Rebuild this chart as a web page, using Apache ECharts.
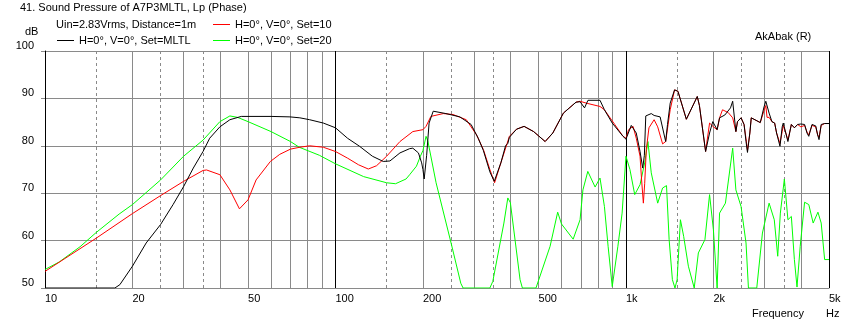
<!DOCTYPE html>
<html><head><meta charset="utf-8">
<script src="https://cdn.jsdelivr.net/npm/echarts@6/dist/echarts.min.js"></script>
<style>html,body{margin:0;padding:0;background:#fff}#c{width:854px;height:325px}</style>
</head><body><div id="c"></div>
<script>
const FONT = '"Liberation Sans", Arial, sans-serif';

const titleText = '41. Sound Pressure of A7P3MLTL, Lp (Phase)';
const infoText = 'Uin=2.83Vrms, Distance=1m';
const nameMLTL = 'H=0°, V=0°, Set=MLTL';
const nameSet10 = 'H=0°, V=0°, Set=10';
const nameSet20 = 'H=0°, V=0°, Set=20';

// [frequency Hz, SPL dB]
const setMLTL = [[10,50],[17.4,50],[18.1,50.7],[20,54.6],[22.3,59.5],[25,63.4],[27.6,67.6],[30,71.4],[32.4,75.3],[35,78.8],[36.9,81.6],[40,84.0],[43.3,85.5],[47.4,86.2],[60,86.2],[69.7,86.1],[75.4,85.9],[81.5,85.5],[90.8,84.8],[100,83.8],[110,81.6],[121,79.9],[134,77.8],[146,76.7],[154,76.8],[166.7,78.5],[180,79.4],[184.6,79.5],[193,78.5],[198,76.4],[200,75.0],[202,73.0],[206,78.0],[210,84.8],[217,87.3],[240,86.8],[268,86.1],[293,84.5],[310,81.6],[323,79.0],[340,74.5],[352,72.5],[371,76.4],[385,80.0],[392,80.5],[397,81.8],[420,83.5],[446,84.1],[481,83.0],[527,80.9],[560,82.7],[609,86.9],[673,89.2],[695,89.3],[720,88.0],[740,89.6],[814,89.6],[843,87.6],[897,84.8],[977,82.0],[1000,81.4],[1043,84.3],[1085,82.7],[1118,78.8],[1142,75.3],[1157,78.0],[1170,86.3],[1222,86.8],[1250,86.4],[1311,86.1],[1370,80.9],[1390,84.5],[1420,89.0],[1470,91.8],[1510,91.5],[1614,85.6],[1760,90.4],[1790,88.5],[1880,78.8],[1940,82.7],[1990,85.1],[2060,83.4],[2100,85.9],[2190,86.5],[2290,88.0],[2330,89.4],[2390,83.0],[2420,85.1],[2490,85.9],[2550,84.5],[2590,80.9],[2620,78.6],[2670,82.7],[2700,85.9],[2900,84.9],[2990,88.3],[3030,89.4],[3110,86.9],[3180,85.1],[3250,84.8],[3300,82.7],[3390,79.9],[3450,84],[3480,84.8],[3550,82.7],[3610,80.9],[3710,84.5],[3800,83.8],[3900,84.5],[4000,84.6],[4120,84.5],[4200,82.7],[4260,82.0],[4370,84.5],[4500,84.2],[4570,82.3],[4620,81.3],[4700,84.5],[4830,84.7],[5000,84.7]];

const set10 = [[10,53.5],[15,60.5],[20,65.7],[25,69.5],[30,72.5],[35,74.8],[36,74.9],[40,73.9],[43.3,70.7],[46.7,66.7],[50,68.6],[53.3,72.8],[59.7,76.7],[64.3,78.2],[70,79.3],[75.4,79.7],[81.5,80.0],[90.8,79.7],[100,78.8],[110,77.4],[120,76.0],[129.7,75.1],[138.5,75.8],[150,77.8],[166.7,80.9],[184.6,83.0],[200,83.4],[205,84.1],[213,86.2],[235,86.8],[254,86.6],[282,85.5],[306,82.3],[323,79.2],[340,75.0],[353,72.2],[371,76.4],[397,82.0],[420,83.5],[446,84.1],[481,83.0],[527,80.9],[560,82.7],[609,86.9],[673,89.2],[695,89.4],[730,89.0],[814,88.3],[843,87.6],[915,84.5],[977,82.0],[1000,81.6],[1021,83.4],[1058,84.1],[1085,81.6],[1118,77.8],[1132,72.8],[1148,67.9],[1160,72.0],[1175,79.2],[1200,83.8],[1250,85.5],[1286,84.0],[1337,80.4],[1370,80.9],[1420,87.6],[1470,91.8],[1510,91.5],[1614,85.6],[1760,90.4],[1790,88.5],[1880,78.8],[1940,84.8],[2000,84.0],[2060,83.4],[2100,85.9],[2150,87.6],[2250,87.0],[2330,85.9],[2390,83.0],[2420,85.1],[2490,85.9],[2550,84.5],[2590,81.5],[2620,79.0],[2670,82.7],[2700,85.9],[2900,84.9],[2990,87.5],[3030,88.5],[3060,86.0],[3110,86.0],[3180,85.1],[3250,84.8],[3300,82.7],[3390,80.5],[3450,83.0],[3480,84.3],[3550,82.7],[3610,81.2],[3710,84.5],[3800,83.8],[3900,84.5],[4000,84.0],[4120,84.3],[4200,82.9],[4260,82.3],[4370,84.3],[4500,84.0],[4570,82.3],[4620,81.8],[4700,84.3],[4830,84.7],[5000,84.7]];

const set20 = [[10,53.9],[11.2,55.5],[13.2,58.7],[15,61.7],[18,65.6],[20,67.6],[25,72.8],[30,77.8],[35,81.2],[40,85.1],[43.3,86.3],[46,86.0],[50,85.1],[60,83.0],[70,80.9],[75,79.7],[88,78.0],[100,76.2],[125,73.5],[150,72.2],[161,72.0],[175,73.0],[180,73.9],[190,75.7],[196,77.8],[200,79.0],[205,82.0],[208,81.0],[222,72.2],[250,59.5],[270,51.0],[275,50],[340,50],[348,51.4],[380,63.7],[392,69.0],[400,68.0],[432,51.75],[440,50],[490,50],[548,58.8],[582,66.0],[600,63.5],[658,60.3],[695,64.4],[711,70.7],[739,74.6],[783,71.3],[814,73.2],[843,67.2],[868,58.8],[897,50.3],[900,50],[910,50],[938,58.8],[970,65.8],[1000,77.8],[1032,75.0],[1072,69.7],[1118,71.8],[1160,76.4],[1190,80.9],[1222,74.3],[1286,67.9],[1337,71.1],[1379,71.6],[1408,60.2],[1445,51.75],[1475,50],[1500,51.75],[1540,64.4],[1580,60.9],[1640,54.6],[1718,50],[1775,57.4],[1870,60.2],[1940,69.7],[2000,62.3],[2060,50],[2100,65.8],[2200,67.9],[2330,79.5],[2390,70.7],[2490,67.2],[2590,59.5],[2640,50],[2820,50],[2950,61.6],[3110,67.9],[3240,64.4],[3330,56.7],[3400,65.8],[3510,73.0],[3610,64.4],[3710,65.1],[3800,56.0],[3880,50.2],[3980,58.8],[4120,68.1],[4260,67.6],[4410,63.7],[4580,66.0],[4700,63.7],[4830,56.0],[5000,56]];

const xLabelTicks = [10,20,50,100,200,500,1000,2000,5000];
const solidGrid = [20,30,40,50,60,70,80,90,200,300,400,500,600,700,800,900,2000,3000,4000];
const dashedGrid = [15,25,35,150,250,350,1500,2500,3500];
const blackGrid = [10,100,1000,5000];

const GRAY = '#8a8a8a';
function fmtHz(v){ return v >= 1000 ? (v/1000) + 'k' : String(v); }
function vItem(f, color, type){
  const show = xLabelTicks.indexOf(f) >= 0;
  return {
    xAxis: f,
    lineStyle: {color: color, type: type, width: 1},
    label: {show: show, formatter: fmtHz(f), position: 'start', distance: 5,
            align: 'left', verticalAlign: 'top', color: '#000', fontSize: 11, fontFamily: FONT}
  };
}
const gridItems = [].concat(
  solidGrid.map(f => vItem(f, GRAY, 'solid')),
  dashedGrid.map(f => vItem(f, GRAY, [3,3])),
  blackGrid.map(f => vItem(f, '#000', 'solid'))
);

const txt = {fontSize: 11, fontWeight: 'normal', color: '#000', fontFamily: FONT};
const legendBase = {padding: 0, itemWidth: 17, itemHeight: 1, icon: 'rect', textStyle: txt, selectedMode: false};
const chart = echarts.init(document.getElementById('c'), null, {renderer: 'canvas'});
chart.setOption({
  animation: false,
  backgroundColor: '#fff',
  textStyle: {fontFamily: FONT},
  title: [
    {text: titleText, left: 20, top: 2, padding: 0, textStyle: txt},
    {text: infoText, left: 56, top: 19, padding: 0, textStyle: txt},
    {text: 'dB', left: 25, top: 26, padding: 0, textStyle: txt},
    {text: 'AkAbak (R)', left: 755, top: 31, padding: 0, textStyle: txt},
    {text: 'Frequency', left: 752, top: 308, padding: 0, textStyle: txt},
    {text: 'Hz', left: 826, top: 308, padding: 0, textStyle: txt}
  ],
  legend: [
    Object.assign({data: [nameSet10], left: 213, top: 19}, legendBase),
    Object.assign({data: [nameMLTL], left: 57, top: 35}, legendBase),
    Object.assign({data: [nameSet20], left: 213, top: 35}, legendBase)
  ],
  grid: {left: 45, right: 25, top: 51, bottom: 37, containLabel: false},
  xAxis: {
    type: 'log', logBase: 10, min: 10, max: 5000,
    axisLine: {show: true, lineStyle: {color: GRAY, width: 1}},
    axisTick: {show: false}, axisLabel: {show: false}, splitLine: {show: false}, minorSplitLine: {show: false}
  },
  yAxis: {
    type: 'value', min: 50, max: 100, interval: 10,
    axisLine: {show: true, lineStyle: {color: '#000', width: 1}},
    axisTick: {show: true, length: 4, lineStyle: {color: GRAY}},
    axisLabel: {show: true, margin: 11, verticalAlign: 'bottom', lineHeight: 10, color: '#000', fontSize: 11, fontFamily: FONT},
    splitLine: {show: true, lineStyle: {color: GRAY, width: 1}}
  },
  series: [
    {
      name: 'grid', type: 'line', data: [[10,50]], symbol: 'none', showSymbol: false, silent: true,
      lineStyle: {opacity: 0}, z: 1, clip: false,
      markLine: {silent: true, symbol: ['none','none'], z: 1, animation: false, data: gridItems}
    },
    {name: nameSet20, type: 'line', data: set20, symbol: 'none', showSymbol: false, z: 3,
     lineStyle: {color: '#00ff00', width: 1}, itemStyle: {color: '#00ff00'}},
    {name: nameSet10, type: 'line', data: set10, symbol: 'none', showSymbol: false, z: 4,
     lineStyle: {color: '#ff0000', width: 1}, itemStyle: {color: '#ff0000'}},
    {name: nameMLTL, type: 'line', data: setMLTL, symbol: 'none', showSymbol: false, z: 5,
     lineStyle: {color: '#000000', width: 1}, itemStyle: {color: '#000000'}}
  ]
});
</script>
</body></html>
